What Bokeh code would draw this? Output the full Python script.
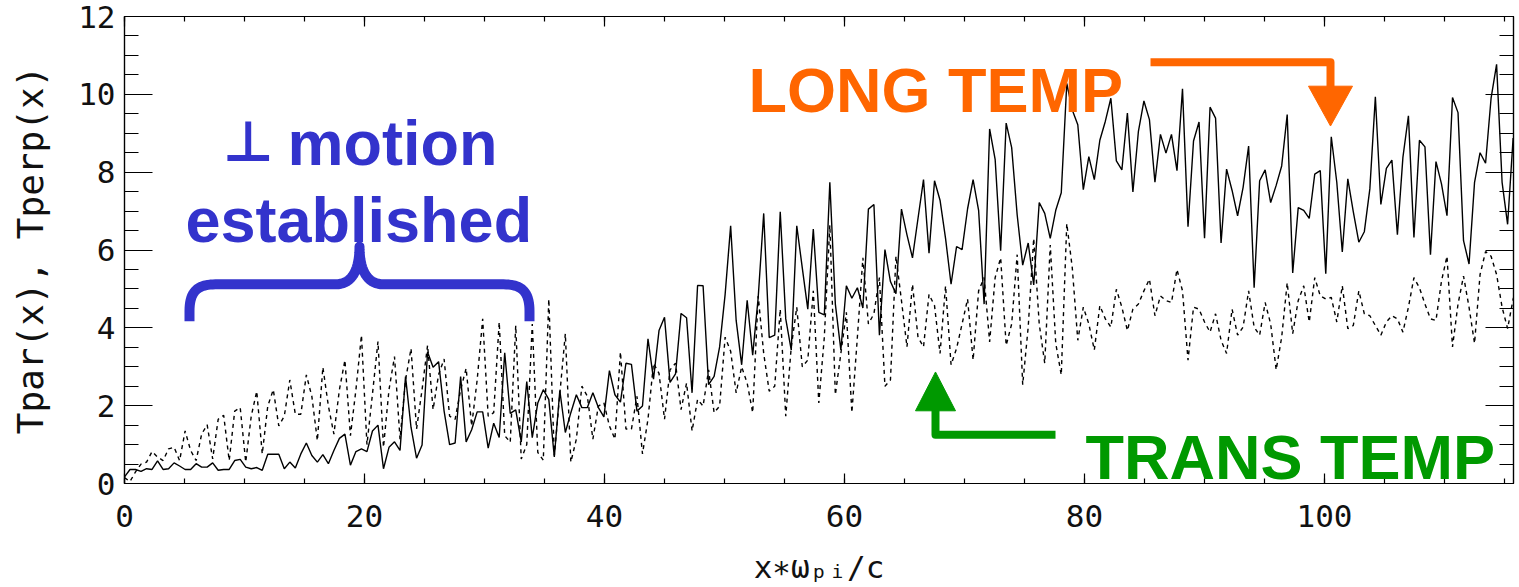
import numpy as np
from bokeh.plotting import figure
from bokeh.models import Range1d, LinearAxis, Label, SingleIntervalTicker
from bokeh.embed import file_html
from bokeh.resources import INLINE

# ---- data ----
dx = 0.4592  # grid spacing of the samples along x*w_pi/c
t_par = [
    0.17, 0.36, 0.36, 0.31, 0.38, 0.36, 0.58, 0.36, 0.38, 0.53,
    0.45, 0.36, 0.36, 0.51, 0.42, 0.42, 0.53, 0.34, 0.36, 0.36,
    0.59, 0.62, 0.42, 0.38, 0.41, 0.34, 0.75, 0.75, 0.75, 0.38,
    0.55, 0.40, 0.76, 1.04, 0.72, 0.55, 0.74, 0.51, 0.85, 1.16,
    1.27, 0.47, 0.82, 0.89, 0.82, 1.35, 1.50, 0.38, 0.93, 1.07,
    0.85, 2.75, 1.44, 0.65, 0.99, 3.38, 2.99, 3.13, 1.86, 1.00,
    1.04, 2.75, 1.07, 1.38, 1.84, 1.84, 0.91, 1.55, 1.18, 3.36,
    1.80, 1.89, 1.07, 2.62, 1.18, 2.07, 2.41, 2.16, 0.68, 2.39,
    1.31, 1.82, 2.28, 1.95, 1.95, 2.33, 1.95, 1.71, 2.90, 2.28,
    2.09, 3.09, 3.06, 1.86, 1.99, 3.72, 2.68, 3.93, 4.27, 2.60,
    2.82, 4.37, 4.26, 2.33, 5.09, 5.08, 2.54, 2.75, 3.51, 4.86,
    6.62, 4.19, 3.05, 4.71, 3.30, 4.78, 6.94, 3.75, 3.81, 6.98,
    4.23, 3.43, 6.62, 5.54, 4.48, 6.54, 4.40, 4.33, 7.74, 4.61,
    3.43, 5.08, 4.76, 5.03, 4.51, 7.05, 7.17, 3.81, 6.01, 5.19,
    4.88, 7.05, 6.39, 5.80, 6.81, 7.81, 5.92, 7.78, 7.28, 6.30,
    5.12, 6.09, 6.01, 7.06, 7.81, 7.02, 4.61, 9.11, 8.33, 5.98,
    9.26, 8.63, 6.90, 5.61, 6.18, 5.10, 7.22, 6.94, 6.30, 7.02,
    7.47, 10.28, 9.60, 9.22, 7.55, 8.40, 7.81, 8.82, 9.31, 9.90,
    8.29, 8.06, 9.52, 7.49, 9.05, 9.83, 9.35, 7.74, 8.97, 8.49,
    8.97, 8.04, 10.14, 6.60, 8.80, 9.29, 6.30, 9.67, 9.39, 6.18,
    8.08, 7.53, 6.88, 7.61, 8.67, 5.03, 7.78, 8.06, 7.22, 7.66,
    8.16, 9.48, 5.41, 7.09, 7.02, 6.81, 7.95, 8.04, 5.39, 8.91,
    7.74, 5.95, 7.83, 6.98, 6.20, 6.47, 7.57, 9.94, 7.17, 8.10,
    8.31, 6.39, 8.38, 9.45, 6.32, 8.82, 8.65, 5.88, 8.27, 7.70,
    6.88, 9.92, 9.53, 6.24, 5.64, 7.74, 8.50, 8.23, 9.90, 10.77,
    7.74, 6.66, 8.88, 6.90,
]
t_perp = [
    0.15, 0.05, 0.30, 0.50, 0.55, 0.82, 0.68, 0.59, 0.89, 0.93,
    0.59, 1.35, 0.85, 0.59, 1.27, 1.51, 0.63, 1.65, 1.75, 0.59,
    1.86, 1.95, 0.55, 1.73, 2.37, 0.76, 1.99, 2.41, 1.48, 1.73,
    2.66, 1.78, 1.78, 2.79, 2.24, 1.10, 2.99, 1.99, 1.27, 2.41,
    3.17, 1.23, 2.41, 3.81, 1.00, 2.30, 3.65, 0.93, 2.41, 3.26,
    1.14, 2.66, 3.47, 1.40, 2.41, 3.55, 1.90, 2.80, 3.20, 1.73,
    1.65, 2.41, 2.96, 1.48, 2.66, 4.23, 1.73, 1.82, 4.15, 1.23,
    1.06, 4.06, 0.63, 1.00, 4.10, 0.80, 0.60, 4.74, 0.72, 2.30,
    3.85, 0.55, 1.14, 2.50, 2.24, 1.14, 1.99, 2.07, 1.48, 1.14,
    3.38, 1.40, 1.40, 2.24, 0.76, 1.65, 3.09, 2.83, 1.65, 2.92,
    3.09, 1.90, 2.58, 1.35, 2.16, 1.99, 2.92, 1.82, 1.99, 3.76,
    3.40, 2.33, 3.00, 2.58, 1.82, 4.82, 3.34, 2.37, 2.50, 4.48,
    1.73, 3.51, 4.53, 3.00, 3.17, 4.95, 2.07, 3.76, 6.64, 2.28,
    3.34, 4.40, 1.82, 3.76, 5.80, 4.10, 4.36, 5.29, 2.50, 2.66,
    5.84, 4.70, 3.51, 5.12, 3.76, 3.51, 4.86, 4.57, 3.34, 5.08,
    3.05, 3.47, 4.10, 4.74, 3.17, 4.95, 5.29, 3.64, 5.29, 5.80,
    3.55, 4.10, 5.88, 2.54, 4.02, 6.30, 4.10, 3.09, 6.13, 3.60,
    2.79, 6.68, 5.54, 3.68, 4.53, 4.10, 3.43, 4.57, 4.23, 4.02,
    4.99, 4.53, 3.93, 4.48, 4.61, 4.95, 5.25, 4.31, 4.82, 4.70,
    4.65, 5.50, 4.95, 3.17, 4.53, 4.48, 4.15, 3.89, 4.36, 3.68,
    3.34, 4.48, 3.81, 4.02, 4.95, 4.02, 3.81, 4.65, 4.10, 2.92,
    3.76, 5.16, 3.85, 4.70, 5.08, 4.15, 5.29, 4.82, 4.74, 4.78,
    4.15, 5.08, 3.98, 4.06, 4.95, 4.36, 4.31, 4.06, 3.81, 4.15,
    4.31, 4.23, 3.89, 4.53, 5.29, 5.03, 4.61, 4.23, 4.19, 5.20,
    5.84, 3.51, 4.61, 5.33, 4.53, 3.60, 5.37, 5.96, 5.84, 5.37,
    4.53, 3.98, 4.74, 5.12,
]
x_pos = np.arange(len(t_par)) * dx
x_ticks = [0, 20, 40, 60, 80, 100]
y_ticks = [0, 2, 4, 6, 8, 10, 12]

BLUE, ORANGE, GREEN = "#3333CC", "#FF6600", "#009900"
MONO = "DejaVu Sans Mono"
BOLD = "Liberation Sans"

W, H = 1515, 587
FL, FT, FB, FR = 124.0, 16.0, 485.0, 1513.0   # frame edges in page pixels
FW, FH = FR - FL, FB - FT
X_MAX, Y_MAX = FW / 12.0, 12.0

p = figure(width=W, height=H, output_backend="svg", toolbar_location=None,
           x_range=Range1d(0, X_MAX), y_range=Range1d(0, Y_MAX),
           min_border_left=int(FL), min_border_right=int(W - FR), min_border_top=int(FT),
           min_border_bottom=int(H - FB), x_axis_location=None, y_axis_location=None)
p.background_fill_color = "white"
p.border_fill_color = "white"
p.outline_line_color = "black"
p.outline_line_width = 1.2
p.grid.visible = False

def px2x(px):
    return (px - FL) / FW * X_MAX
def py2y(py):
    return (FB - py) / FH * Y_MAX

def style_axis(ax, tick_in, minor_in, labels):
    ax.axis_line_color = "black"
    ax.axis_line_width = 1.2
    ax.major_tick_line_color = "black"
    ax.minor_tick_line_color = "black"
    ax.major_tick_line_width = 1.2
    ax.minor_tick_line_width = 1.2
    ax.major_tick_in = tick_in
    ax.major_tick_out = 0
    ax.minor_tick_in = minor_in
    ax.minor_tick_out = 0
    if labels:
        ax.major_label_text_font = MONO
        ax.major_label_text_font_size = "31px"
        ax.major_label_text_color = "#111111"
    else:
        ax.major_label_text_font_size = "1px"
        ax.major_label_text_color = None
        ax.major_label_standoff = 0

xb = LinearAxis(ticker=SingleIntervalTicker(interval=20, num_minor_ticks=4))
style_axis(xb, 10, 5, True)
xb.major_label_standoff = 21
xb.axis_label = "x∗ωₚᵢ/c"
xb.axis_label_text_font = MONO
xb.axis_label_text_font_size = "31px"
xb.axis_label_text_font_style = "normal"
xb.axis_label_text_color = "#111111"
xb.axis_label_standoff = 19
p.add_layout(xb, "below")
xt = LinearAxis(ticker=SingleIntervalTicker(interval=20, num_minor_ticks=4))
style_axis(xt, 10, 5, False)
p.add_layout(xt, "above")

yl = LinearAxis(ticker=SingleIntervalTicker(interval=2, num_minor_ticks=4))
style_axis(yl, 28, 14, True)
yl.major_label_standoff = 9
yl.axis_label = "Tpar(x), Tperp(x)"
yl.axis_label_text_font = MONO
yl.axis_label_text_font_size = "36px"
yl.axis_label_text_font_style = "normal"
yl.axis_label_text_color = "#111111"
yl.axis_label_standoff = 24
p.add_layout(yl, "left")
yr = LinearAxis(ticker=SingleIntervalTicker(interval=2, num_minor_ticks=4))
style_axis(yr, 28, 14, False)
p.add_layout(yr, "right")

# ---- data lines ----
p.line(x_pos, t_par, line_color="black", line_width=1.4)
p.line(x_pos, t_perp, line_color="black", line_width=1.4, line_dash="4 4")

# ---- annotations ----
def big(txt, px_, py_, color, font=BOLD, size="63px", style="bold"):
    p.add_layout(Label(x=px2x(px_), y=py2y(py_), text=txt, text_font=font,
                       text_font_size=size, text_font_style=style, text_color=color,
                       text_baseline="alphabetic", text_align="left"))

big("⊥", 222, 142, BLUE, font="DejaVu Sans", size="56px", style="bold")
big("motion", 287, 143, BLUE)
big("established", 185, 220, BLUE)
big("LONG TEMP", 748, 90, ORANGE)
big("TRANS TEMP", 1085, 458, GREEN)

def cubic(p0, p1, p2, p3, n=20):
    t = np.linspace(0, 1, n)[:, None]
    pts = ((1 - t) ** 3) * np.array(p0) + 3 * ((1 - t) ** 2) * t * np.array(p1) \
        + 3 * (1 - t) * t ** 2 * np.array(p2) + t ** 3 * np.array(p3)
    return pts.tolist()

# curly brace (pixel coordinates of the reference, converted to data space)
path = [(189, 322), (189, 312)]
path += cubic((189, 312), (189, 292), (197, 285), (215, 285))
path += [(335, 285)]
path += cubic((335, 285), (353, 285), (359, 268), (359, 247))
path += cubic((359, 247), (359, 268), (365, 285), (383, 285))
path += [(503, 285)]
path += cubic((503, 285), (521, 285), (529, 292), (529, 312))
path += [(529, 322)]
p.line([px2x(a) for a, b in path], [py2y(b) for a, b in path],
       line_color=BLUE, line_width=10, line_join="round")

# orange arrow
oa = [(1150, 62), (1330, 62), (1330, 87)]
p.line([px2x(a) for a, b in oa], [py2y(b) for a, b in oa],
       line_color=ORANGE, line_width=8, line_join="round")
p.patch([px2x(a) for a in (1308, 1352, 1330)], [py2y(b) for b in (86, 86, 126)],
        fill_color=ORANGE, line_color=ORANGE)

# green arrow
ga = [(1055, 436), (935, 436), (935, 410)]
p.line([px2x(a) for a, b in ga], [py2y(b) for a, b in ga],
       line_color=GREEN, line_width=8, line_join="round")
p.patch([px2x(a) for a in (915, 955, 935)], [py2y(b) for b in (412, 412, 373)],
        fill_color=GREEN, line_color=GREEN)

open("out.html", "w").write(file_html(p, INLINE))
